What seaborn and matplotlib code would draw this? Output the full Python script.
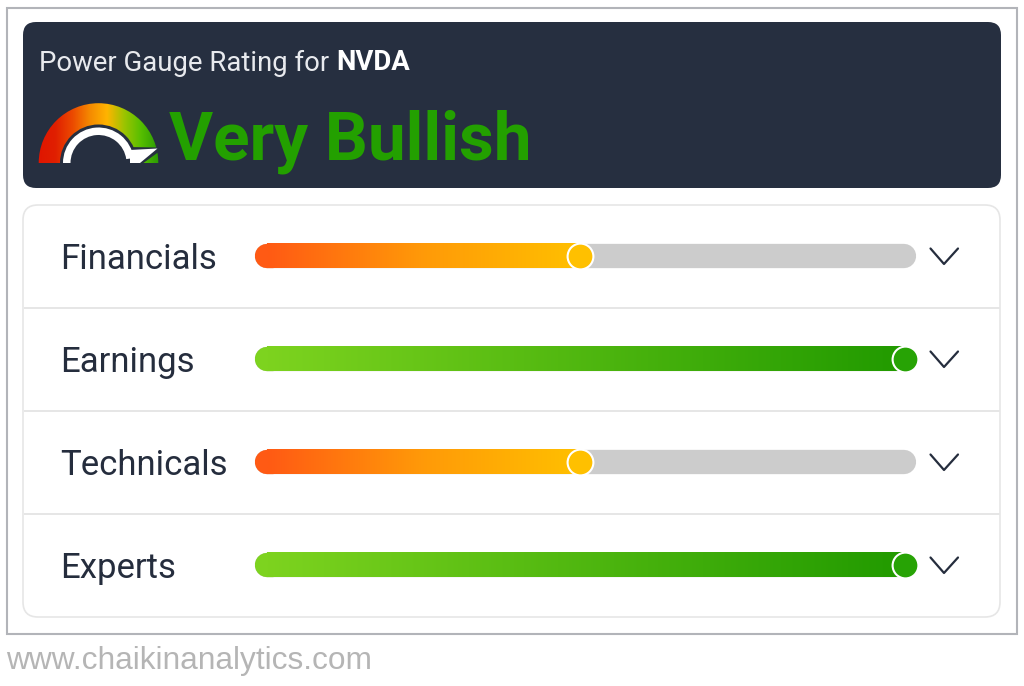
import numpy as np
import pandas as pd
import matplotlib
matplotlib.use('Agg')
import matplotlib.pyplot as plt
import seaborn as sns
from matplotlib.patches import FancyBboxPatch, Wedge, Polygon, Rectangle

# --- Data ---
categories = ['Financials', 'Earnings', 'Technicals', 'Experts']
scores = [49, 100, 49, 100]
bar_kind = ['low', 'high', 'low', 'high']
ticker = 'NVDA'
rating = 'Very Bullish'
source = 'www.chaikinanalytics.com'

W, H = 1024, 686
DARK = '#262F40'
INK = '#252D3D'
TRACK = '#CCCCCC'

sns.set_theme(style='white')
plt.rcParams['font.family'] = ['Roboto', 'DejaVu Sans']

low_cmap = sns.blend_palette(['#FF5A14', '#FF9A08', '#FFC000'], as_cmap=True)
high_cmap = sns.blend_palette(['#7DD31F', '#219A00'], as_cmap=True)
gauge_cmap = sns.blend_palette(['#E01500', '#E01F00', '#EC4A00', '#F58A00', '#FFB400', '#9CC400', '#55BE00', '#2A9A05'],
                               as_cmap=True)
knob_colors = {'low': '#FFC000', 'high': '#27A305'}
cmaps = {'low': low_cmap, 'high': high_cmap}

fig = plt.figure(figsize=(W / 100, H / 100), dpi=100, facecolor='white')

# Page layer, in pixels
page = fig.add_axes([0, 0, 1, 1])
page.set_xlim(0, W)
page.set_ylim(H, 0)
page.axis('off')

page.add_patch(Rectangle((6.5, 7.5), 1010.5, 626.5, fc='white', ec='#B2B4B9', lw=1.5))
page.add_patch(FancyBboxPatch((35, 34), 954, 142, boxstyle='round,pad=12,rounding_size=13',
                              fc=DARK, ec='none'))
page.add_patch(FancyBboxPatch((37, 219), 949, 384, boxstyle='round,pad=14,rounding_size=15',
                              fc='white', ec='#E6E6E6', lw=1.2))
for y in [308, 411, 514]:
    page.plot([24, 1000], [y, y], color='#E6E6E6', lw=1.4, solid_capstyle='butt')

# Header text
page.text(39, 63, 'Power Gauge Rating for', color='#E8EAEE', fontsize=19.8, va='center')
page.text(336, 63, ticker, color='white', fontsize=19.8, fontweight='bold', va='center')
page.text(169, 159, rating, color='#23A000', fontsize=48.6, fontweight='bold', va='baseline')
page.text(6, 660.5, source, color='#B5B5B5', fontsize=22.8, va='center', family='Liberation Sans')

# Gauge icon
cx, cy = 98.5, 163
ramp = np.linspace(0, 1, 256).reshape(1, -1)
grad = page.imshow(ramp, extent=(38, 159, 163, 103), cmap=gauge_cmap, aspect='auto', zorder=2)
outer = Wedge((cx, cy), 59.8, 180, 360, fc='none', ec='none', transform=page.transData)
page.add_patch(outer)
grad.set_clip_path(outer)
page.add_patch(Wedge((cx, cy), 38.5, 180, 360, fc=DARK, ec='none', zorder=3))
page.add_patch(Polygon([(127, 147), (160, 147.5), (160, 151), (142, 164), (127, 164)],
                       fc=DARK, ec='none', zorder=3))
page.add_patch(Wedge((cx, cy), 35.5, 180, 352, width=7.5, fc='white', ec='none', zorder=4))
page.add_patch(Polygon([(130, 150), (157.5, 148.5), (140, 163), (130, 163)], fc='white', ec='none', zorder=4))
page.set_xlim(0, W)
page.set_ylim(H, 0)

# Chevrons
for i in range(len(categories)):
    yc = 256 + 103 * i
    page.plot([930.5, 944, 958], [yc - 7.5, yc + 8, yc - 7.5], color=INK, lw=1.6, zorder=5)

# Bars layer: 0-100 runs between the knob end positions
bars = fig.add_axes([267 / W, 1 - 616.5 / H, 638 / W, 412 / H], facecolor='none')
df = pd.DataFrame({'category': categories, 'track': [100] * 4})
sns.barplot(data=df, x='track', y='category', orient='h', color=TRACK, saturation=1,
            width=24.4 / 103, ax=bars, zorder=1)
ypos = np.arange(len(categories))
half = 24.4 / 103 / 2
for y, score, kind in zip(ypos, scores, bar_kind):
    # round track ends
    bars.plot([0, 99.8], [y, y], color=TRACK, lw=17.5, solid_capstyle='round', zorder=1)
    # round left end in the first colour
    bars.plot([0, 1], [y, y], color=cmaps[kind](0.0), lw=17.5, solid_capstyle='round', zorder=2)
    bars.imshow(ramp, extent=(0, score, y + half, y - half), cmap=cmaps[kind], aspect='auto', zorder=3)
    bars.scatter([score], [y], s=345, color=knob_colors[kind], edgecolor='white', linewidth=1.5,
                 zorder=4, clip_on=False)

bars.set_xlim(0, 100)
bars.set_ylim(3.5, -0.5)
bars.set_xlabel('')
bars.set_ylabel('')
bars.set_xticks([])
sns.despine(ax=bars, left=True, bottom=True)
for spine in bars.spines.values():
    spine.set_visible(False)
bars.tick_params(axis='y', length=0, pad=207 * 0.72)
for label in bars.get_yticklabels():
    label.set_ha('left')
    label.set_color(INK)
    label.set_fontsize(25)
for artist in bars.get_children():
    artist.set_clip_on(False)

fig.savefig('out.png', dpi=100, facecolor='white')
